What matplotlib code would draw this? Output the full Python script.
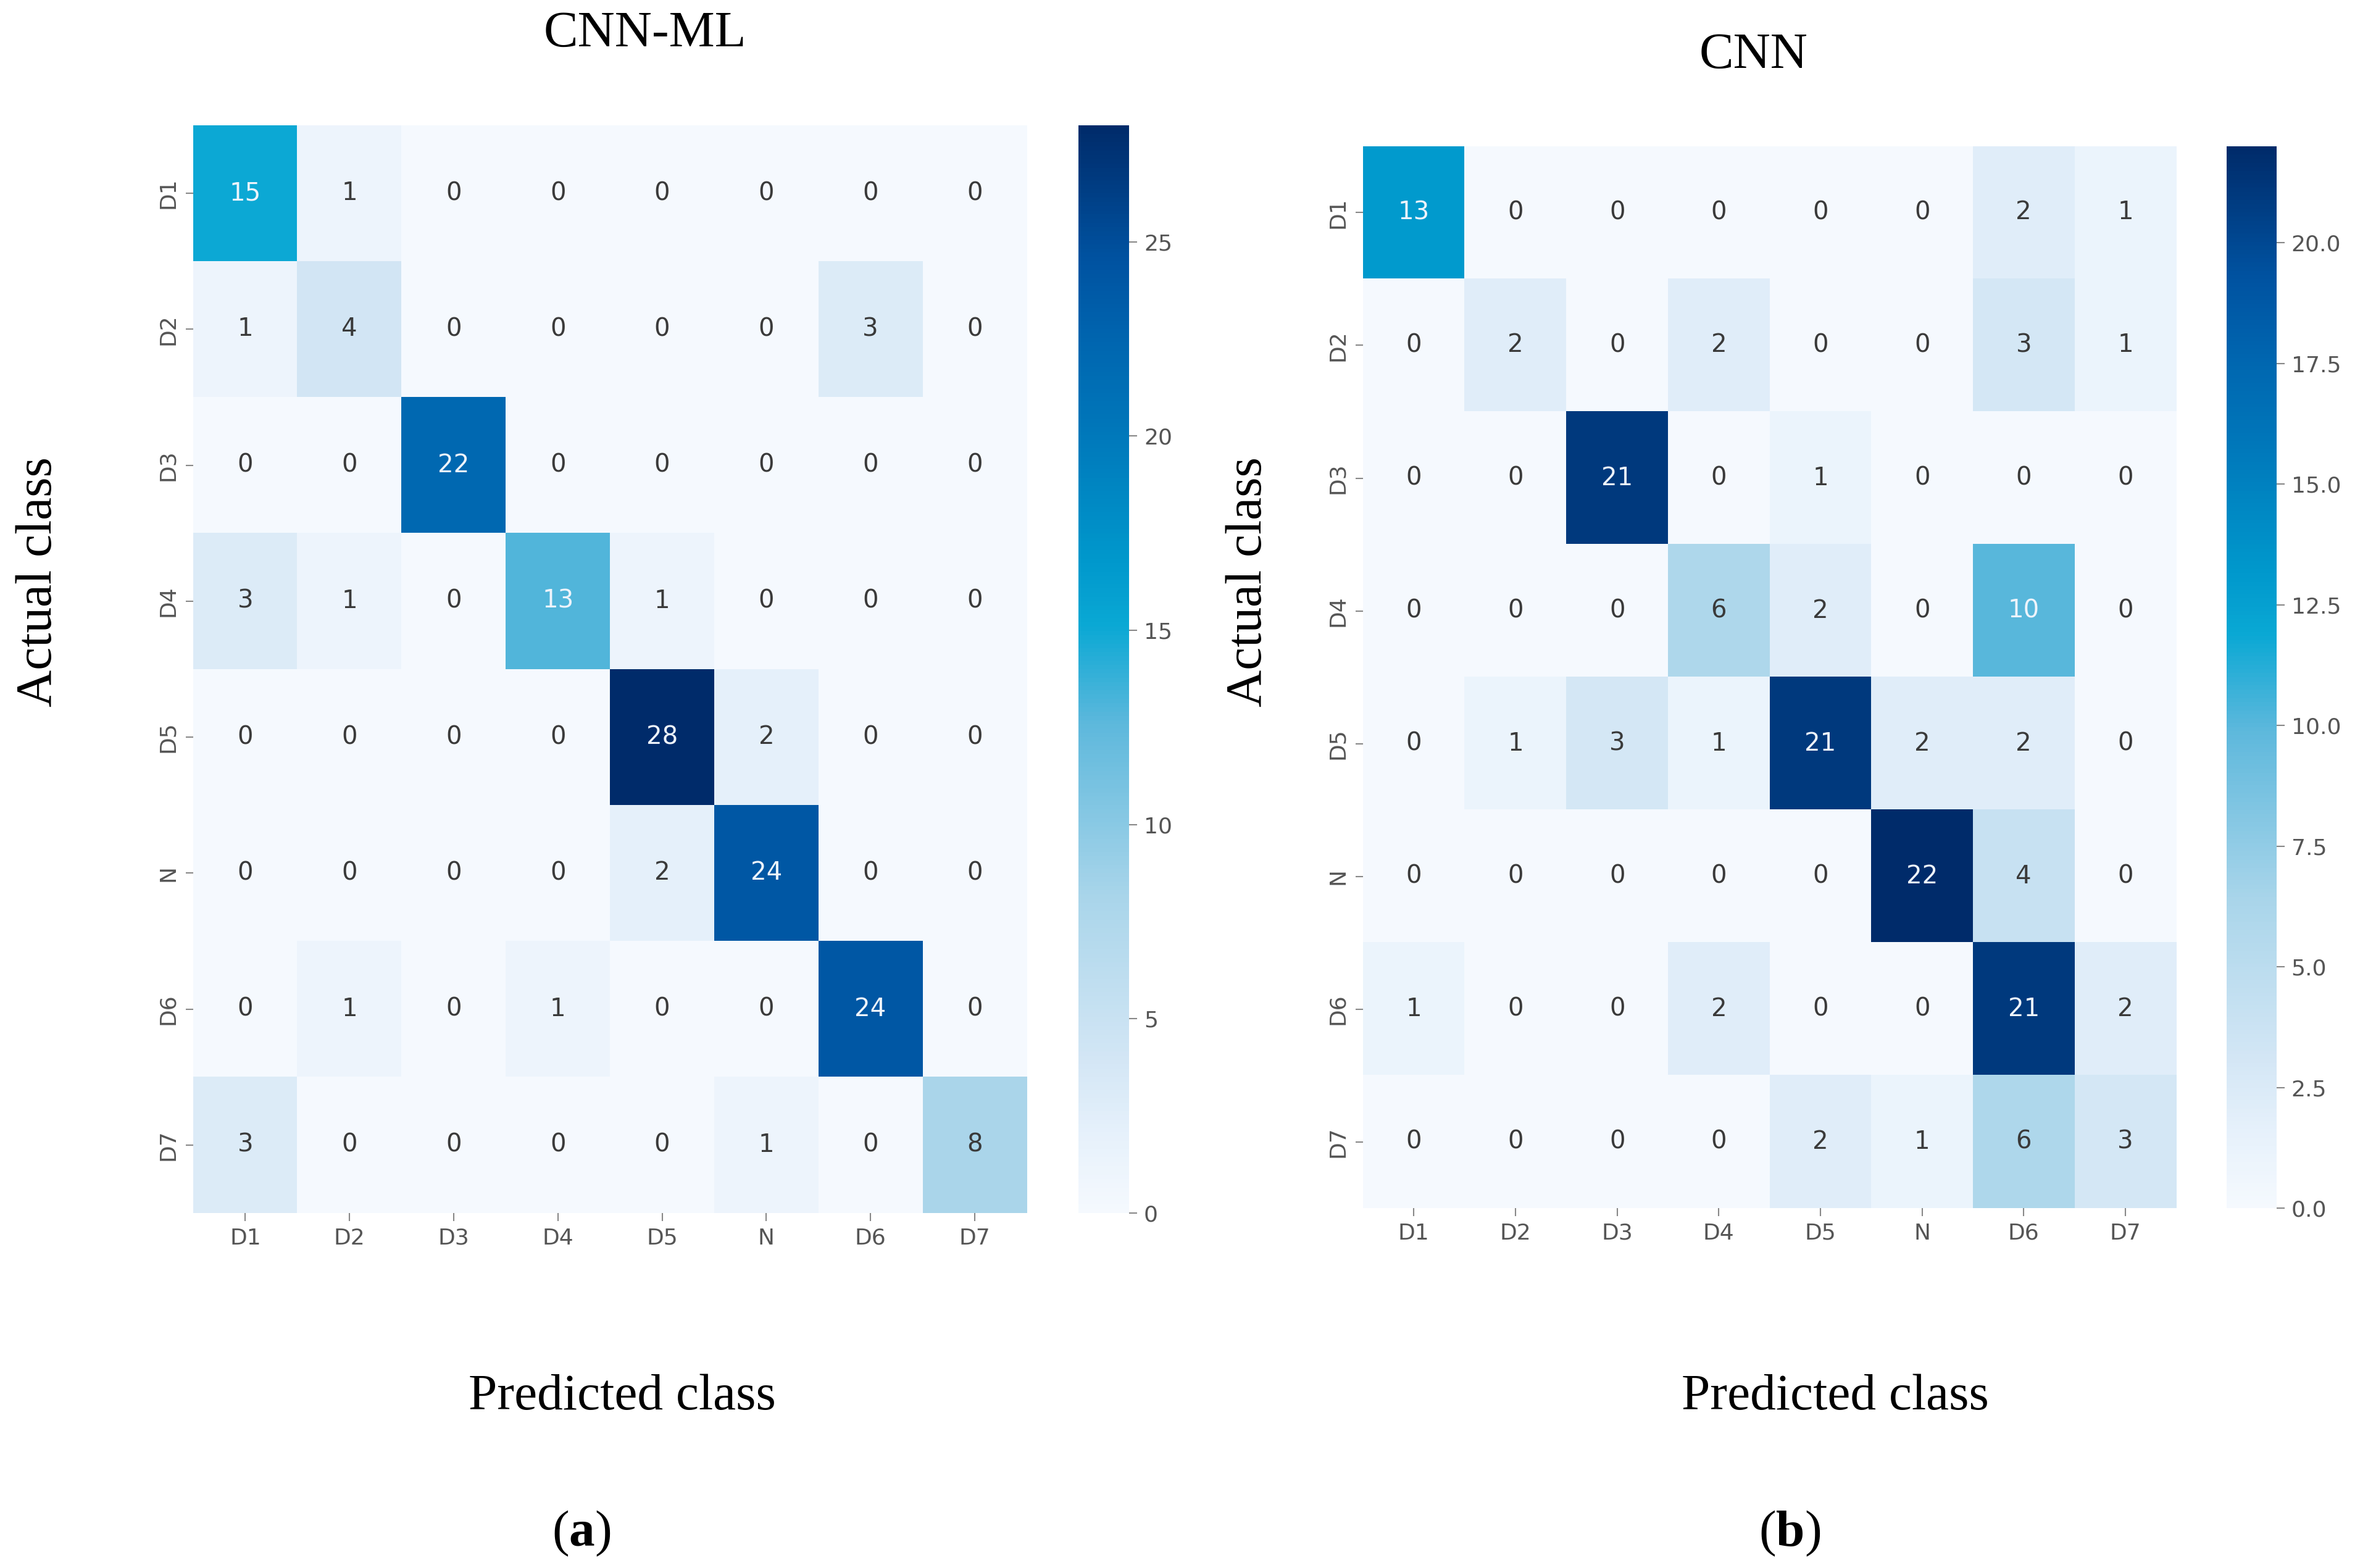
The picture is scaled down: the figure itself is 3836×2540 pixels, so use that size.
import numpy as np
import matplotlib
matplotlib.use("Agg")
import matplotlib.pyplot as plt
from matplotlib.colors import LinearSegmentedColormap

# class labels (rows = actual, columns = predicted)
classes = ["D1", "D2", "D3", "D4", "D5", "N", "D6", "D7"]

# confusion matrix for CNN-ML
cm_cnn_ml = np.array([
    [15, 1, 0, 0, 0, 0, 0, 0],
    [1, 4, 0, 0, 0, 0, 3, 0],
    [0, 0, 22, 0, 0, 0, 0, 0],
    [3, 1, 0, 13, 1, 0, 0, 0],
    [0, 0, 0, 0, 28, 2, 0, 0],
    [0, 0, 0, 0, 2, 24, 0, 0],
    [0, 1, 0, 1, 0, 0, 24, 0],
    [3, 0, 0, 0, 0, 1, 0, 8],
])

# confusion matrix for CNN
cm_cnn = np.array([
    [13, 0, 0, 0, 0, 0, 2, 1],
    [0, 2, 0, 2, 0, 0, 3, 1],
    [0, 0, 21, 0, 1, 0, 0, 0],
    [0, 0, 0, 6, 2, 0, 10, 0],
    [0, 1, 3, 1, 21, 2, 2, 0],
    [0, 0, 0, 0, 0, 22, 4, 0],
    [1, 0, 0, 2, 0, 0, 21, 2],
    [0, 0, 0, 0, 2, 1, 6, 3],
])

cbar_ticks_a = [0, 5, 10, 15, 20, 25]
cbar_ticks_b = [0, 2.5, 5, 7.5, 10, 12.5, 15, 17.5, 20]

# blue colormap with a cyan middle, as in the figure
cmap = LinearSegmentedColormap.from_list("cm_blues", [
    (0.0, "#f5f9fe"),
    (0.07, "#e6f1fb"),
    (0.14, "#d3e6f5"),
    (0.29, "#a9d5ea"),
    (0.45, "#5db8dc"),
    (0.54, "#0aa8d4"),
    (0.60, "#0098cc"),
    (0.72, "#0077ba"),
    (0.80, "#0066b0"),
    (0.88, "#0052a0"),
    (1.0, "#002b6a"),
])

serif = "Liberation Serif"
plt.rcParams["mathtext.fontset"] = "custom"
plt.rcParams["mathtext.rm"] = "Liberation Serif"
plt.rcParams["mathtext.bf"] = "Liberation Serif:bold"
tick_gray = "#555555"


def draw_cm(fig, rect, cbar_rect, cm, ticks, tick_fmt):
    ax = fig.add_axes(rect)
    vmax = cm.max()
    im = ax.imshow(cm, cmap=cmap, vmin=0, vmax=vmax, aspect="auto",
                   interpolation="nearest")
    for i in range(cm.shape[0]):
        for j in range(cm.shape[1]):
            val = cm[i, j]
            col = "#eef4fb" if val / vmax > 0.4 else "#3a3a3a"
            ax.text(j, i, str(val), ha="center", va="center", fontsize=29,
                    color=col)
    ax.set_xticks(range(len(classes)))
    ax.set_yticks(range(len(classes)))
    ax.set_xticklabels(classes, fontsize=26, color=tick_gray)
    ax.set_yticklabels(classes, fontsize=26, color=tick_gray, rotation=90,
                       va="center")
    ax.tick_params(length=9, width=1.5, color="#888888", pad=8)
    for s in ax.spines.values():
        s.set_visible(False)

    cax = fig.add_axes(cbar_rect)
    cb = fig.colorbar(im, cax=cax, ticks=ticks)
    cb.outline.set_visible(False)
    cb.ax.tick_params(labelsize=26, labelcolor=tick_gray, length=9,
                      width=1.5, color="#888888", pad=8)
    cb.ax.set_yticklabels([tick_fmt.format(t) for t in ticks])
    return ax


def panel_texts(fig, title, title_xy, ylab_x, xlab_x, letter_x, letter):
    fig.text(title_xy[0], title_xy[1], title, ha="center", va="center",
             fontsize=60, family=serif)
    fig.text(ylab_x, 0.629, "Actual class", rotation=90, ha="center",
             va="center", fontsize=60, family=serif)
    fig.text(xlab_x, 0.109, "Predicted class", ha="center", va="center",
             fontsize=60, family=serif)
    fig.text(letter_x, 0.022, "(" + r"$\mathbf{" + letter + "}$" + ")",
             ha="center", va="center", fontsize=60, family=serif)


fig = plt.figure(figsize=(38.36, 25.40), dpi=100)

draw_cm(fig, [0.0816, 0.2264, 0.352, 0.6937], [0.4555, 0.2264, 0.0214, 0.6937],
        cm_cnn_ml, cbar_ticks_a, "{:.0f}")
panel_texts(fig, "CNN-ML", (0.2723, 0.9785), 0.0165, 0.2628, 0.2455, "a")

draw_cm(fig, [0.5756, 0.2295, 0.3434, 0.6772], [0.9403, 0.2295, 0.0211, 0.6772],
        cm_cnn, cbar_ticks_b, "{:.1f}")
panel_texts(fig, "CNN", (0.7404, 0.9645), 0.5274, 0.7749, 0.7557, "b")

fig.savefig("out.png", dpi=100, facecolor="white")
